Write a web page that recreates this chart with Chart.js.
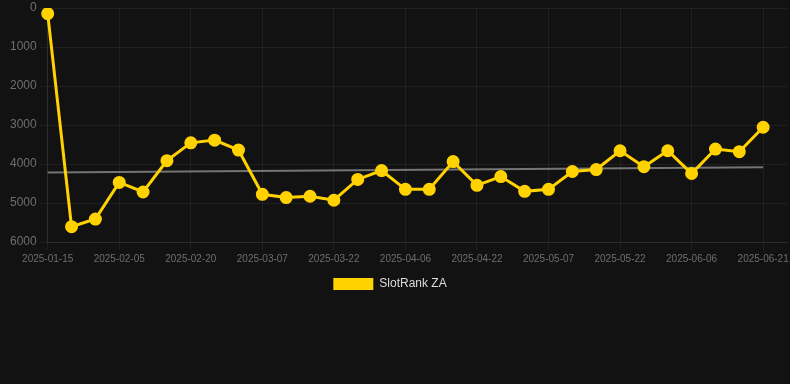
<!DOCTYPE html>
<html>
<head>
<meta charset="utf-8">
<script src="https://cdn.jsdelivr.net/npm/chart.js@4/dist/chart.umd.min.js"></script>
<style>
  html, body { margin: 0; padding: 0; background: #121212; width: 790px; height: 384px; overflow: hidden; }
  #wrap { position: relative; width: 795px; height: 300px; }
</style>
</head>
<body>
<div id="wrap"><canvas id="c"></canvas></div>
<script>
const categories = [
  '2025-01-15','2025-01-22','2025-01-29','2025-02-05','2025-02-10','2025-02-15',
  '2025-02-20','2025-02-25','2025-03-02','2025-03-07','2025-03-12','2025-03-17',
  '2025-03-22','2025-03-27','2025-04-01','2025-04-06','2025-04-11','2025-04-16',
  '2025-04-22','2025-04-27','2025-05-02','2025-05-07','2025-05-12','2025-05-17',
  '2025-05-22','2025-05-27','2025-06-01','2025-06-06','2025-06-11','2025-06-16',
  '2025-06-21','2025-06-26'
];
const slotRankZA = [
  145, 5607, 5411, 4472, 4718, 3914, 3457, 3388, 3642, 4777, 4860, 4827,
  4929, 4396, 4168, 4650, 4650, 3939, 4548, 4322, 4701, 4650, 4193, 4142,
  3660, 4068, 3660, 4244, 3617, 3685, 3058, null
];
const trendValues = [
  4221, null, null, null, null, null, null, null, null, null, null, null,
  null, null, null, null, null, null, null, null, null, null, null, null,
  null, null, null, null, null, null, 4084, null
];
const yTicks = [0, 1000, 2000, 3000, 4000, 5000, 6000];
const seriesName = 'SlotRank ZA';

const gold = '#ffd200';
const fontFamily = '"Liberation Sans", Arial, sans-serif';

const shiftLegend = {
  id: 'shiftLegend',
  afterLayout(chart) {
    const l = chart.legend;
    if (l) { l.left -= 11; l.right -= 11; }
  }
};

new Chart(document.getElementById('c'), {
  type: 'line',
  plugins: [shiftLegend],
  data: {
    labels: categories,
    datasets: [
      {
        label: seriesName,
        data: slotRankZA,
        borderColor: gold,
        backgroundColor: gold,
        pointBackgroundColor: gold,
        pointBorderColor: gold,
        borderWidth: 3,
        pointRadius: 5,
        tension: 0,
        order: 1
      },
      {
        label: 'trend',
        data: trendValues,
        borderColor: 'rgba(150,150,150,0.75)',
        borderWidth: 2,
        pointRadius: 0,
        spanGaps: true,
        fill: false,
        order: 2
      }
    ]
  },
  options: {
    responsive: true,
    maintainAspectRatio: false,
    animation: false,
    layout: { padding: { left: 7, right: 0, top: 0, bottom: 0 } },
    plugins: {
      legend: {
        position: 'bottom',
        labels: {
          color: '#dddddd',
          boxWidth: 40,
          boxHeight: 12,
          font: { family: fontFamily, size: 12 },
          filter: (item) => item.text === seriesName,
          generateLabels: (chart) => {
            const items = Chart.defaults.plugins.legend.labels.generateLabels(chart);
            items.forEach(it => { it.lineWidth = 0; it.strokeStyle = 'rgba(0,0,0,0)'; });
            return items;
          }
        }
      },
      tooltip: { enabled: false }
    },
    scales: {
      x: {
        type: 'category',
        grid: { color: 'rgba(255,255,255,0.06)' },
        border: { color: 'rgba(255,255,255,0.06)' },
        ticks: {
          color: '#6e6e6e',
          font: { family: fontFamily, size: 10 },
          autoSkip: true,
          maxTicksLimit: 11,
          maxRotation: 0,
          minRotation: 0
        }
      },
      y: {
        reverse: true,
        min: 0,
        max: 6000,
        afterBuildTicks: (axis) => { axis.ticks = yTicks.map(v => ({ value: v })); },
        grid: { color: 'rgba(255,255,255,0.06)' },
        border: { color: 'rgba(255,255,255,0.06)' },
        ticks: {
          color: '#6e6e6e',
          font: { family: fontFamily, size: 12, lineHeight: 0.7 },
          callback: (v) => String(v)
        }
      }
    }
  }
});
</script>
</body>
</html>
